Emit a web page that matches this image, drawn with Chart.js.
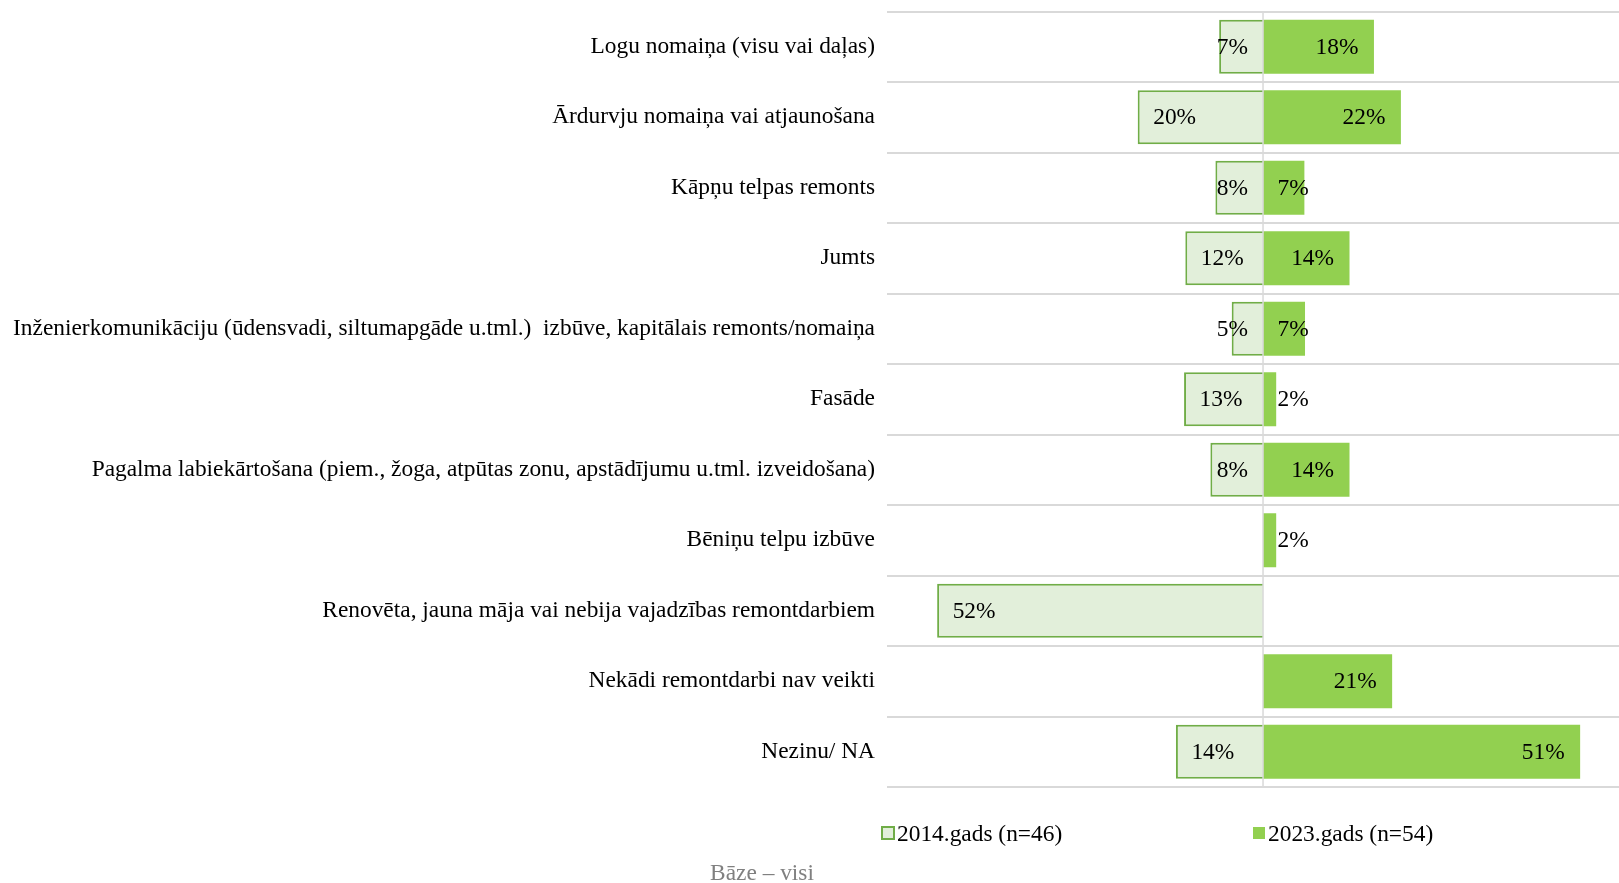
<!DOCTYPE html>
<html>
<head>
<meta charset="utf-8">
<script src="https://cdn.jsdelivr.net/npm/chart.js@4/dist/chart.umd.min.js"></script>
<style>
  html, body { margin: 0; padding: 0; background: #ffffff; }
  #wrap { position: relative; width: 1619px; height: 883px; overflow: hidden; }
  #c { position: absolute; left: 0; top: 0; }
  .lg { position: absolute; font-family: "Liberation Serif", "Times New Roman", serif; font-size: 23.4px; line-height: 26px; color: #000; white-space: nowrap; }
  .mk { position: absolute; box-sizing: border-box; }
  #footer { position: absolute; left: 0; width: 1524px; text-align: center; top: 859px; font-family: "Liberation Serif", "Times New Roman", serif; font-size: 23.4px; line-height: 26px; color: #808080; }
</style>
</head>
<body>
<div id="wrap">
  <canvas id="c" width="1619" height="883"></canvas>
  <div class="mk" id="mk1" style="left:881px; top:826px; width:14px; height:14px; background:#E2EFDA; border:2px solid #70AD47;"></div>
  <div class="lg" id="lg1" style="left:897px; top:820px;"></div>
  <div class="mk" id="mk2" style="left:1253px; top:827px; width:12px; height:12px; background:#92D050;"></div>
  <div class="lg" id="lg2" style="left:1268px; top:820px;"></div>
  <div id="footer"></div>
</div>
<script>
const categories = [
  'Logu nomaiņa (visu vai daļas)',
  'Ārdurvju nomaiņa vai atjaunošana',
  'Kāpņu telpas remonts',
  'Jumts',
  'Inženierkomunikāciju (ūdensvadi, siltumapgāde u.tml.)  izbūve, kapitālais remonts/nomaiņa',
  'Fasāde',
  'Pagalma labiekārtošana (piem., žoga, atpūtas zonu, apstādījumu u.tml. izveidošana)',
  'Bēniņu telpu izbūve',
  'Renovēta, jauna māja vai nebija vajadzības remontdarbiem',
  'Nekādi remontdarbi nav veikti',
  'Nezinu/ NA'
];
const values2014 = [7.0, 20.0, 7.6, 12.4, 5.0, 12.6, 8.4, null, 52.0, null, 13.9];
const values2023 = [17.7, 22.0, 6.6, 13.8, 6.7, 2.1, 13.8, 2.1, null, 20.6, 50.6];
const seriesNames = ['2014.gads (n=46)', '2023.gads (n=54)'];
const footerText = 'Bāze – visi';
const axisMin = -60;
const axisMax = 56.8;

document.getElementById('lg1').textContent = seriesNames[0];
document.getElementById('lg2').textContent = seriesNames[1];
document.getElementById('footer').textContent = footerText;

const FONT = '"Liberation Serif", "Times New Roman", serif';

const zeroAndLabels = {
  id: 'zeroAndLabels',
  afterDatasetsDraw(chart) {
    const ctx = chart.ctx;
    const xs = chart.scales.x;
    const area = chart.chartArea;
    const x0 = xs.getPixelForValue(0);
    ctx.save();
    ctx.strokeStyle = '#D9D9D9';
    ctx.lineWidth = 1.5;
    ctx.beginPath();
    ctx.moveTo(x0, area.top);
    ctx.lineTo(x0, area.bottom);
    ctx.stroke();

    ctx.font = '23.4px ' + FONT;
    ctx.fillStyle = '#000000';
    ctx.textBaseline = 'middle';
    ctx.textAlign = 'left';
    chart.data.datasets.forEach((ds, di) => {
      const meta = chart.getDatasetMeta(di);
      meta.data.forEach((bar, i) => {
        const v = ds.data[i];
        if (v === null || v === undefined) return;
        const txt = Math.round(Math.abs(v)) + '%';
        const w = ctx.measureText(txt).width;
        let left;
        if (v < 0) {
          left = bar.x + 15.5;
          if (left + w > bar.base - 15) left = bar.base - 15 - w;
        } else {
          let right = bar.x - 15.5;
          if (right - w < bar.base + 14.5) right = bar.base + 14.5 + w;
          left = right - w;
        }
        ctx.fillText(txt, left, bar.y + 1);
      });
    });
    ctx.restore();
  }
};

new Chart(document.getElementById('c'), {
  type: 'bar',
  data: {
    labels: categories,
    datasets: [
      {
        label: seriesNames[0],
        data: values2014.map(v => v === null ? null : -v),
        backgroundColor: '#E2EFDA',
        borderColor: '#70AD47',
        borderWidth: 2,
        borderSkipped: 'start',
        categoryPercentage: 1,
        barPercentage: 0.765
      },
      {
        label: seriesNames[1],
        data: values2023,
        backgroundColor: '#92D050',
        borderWidth: 0,
        categoryPercentage: 1,
        barPercentage: 0.765
      }
    ]
  },
  options: {
    indexAxis: 'y',
    responsive: false,
    animation: false,
    devicePixelRatio: 1,
    layout: { padding: { left: 0, right: 0, top: 11.5, bottom: 96 } },
    plugins: { legend: { display: false }, tooltip: { enabled: false } },
    scales: {
      x: {
        stacked: true,
        display: false,
        min: axisMin,
        max: axisMax
      },
      y: {
        stacked: true,
        border: { display: false },
        grid: { color: '#D9D9D9', lineWidth: 2, drawTicks: false, offset: true },
        ticks: {
          font: { family: FONT, size: 23.4, lineHeight: 1 },
          color: '#000000',
          padding: 12,
          autoSkip: false
        },
        afterFit(scale) {
          scale.width = 887;
          scale.paddingTop = 0;
          scale.paddingBottom = 0;
        }
      }
    }
  },
  plugins: [zeroAndLabels]
});
</script>
</body>
</html>
